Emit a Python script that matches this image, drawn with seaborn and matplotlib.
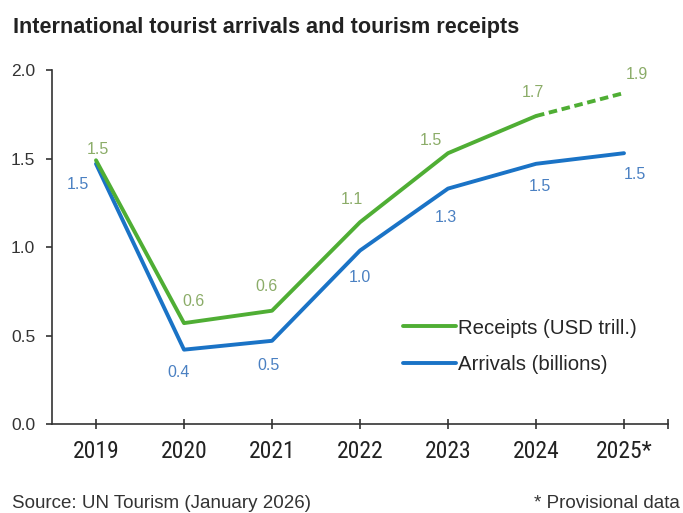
import matplotlib
matplotlib.use("Agg")
import matplotlib.pyplot as plt
from matplotlib import font_manager
from matplotlib.lines import Line2D
import seaborn as sns
import pandas as pd

# Data
years = [2019, 2020, 2021, 2022, 2023, 2024, 2025]
year_labels = ["2019", "2020", "2021", "2022", "2023", "2024", "2025*"]
receipts = [1.49, 0.57, 0.64, 1.14, 1.53, 1.74, 1.87]   # USD trillion
arrivals = [1.47, 0.42, 0.47, 0.98, 1.33, 1.47, 1.53]   # billions
y_ticks = [0.0, 0.5, 1.0, 1.5, 2.0]

# Label offsets in pixels (dx, dy) relative to each point
rec_offsets = [(2, 11), (9, 22), (-6, 24), (-8, 23), (-17, 13), (-3, 24), (13, 19)]
arr_offsets = [(-18, -21), (-5, -23), (-4, -25), (0, -27), (-2, -29), (4, -23), (11, -21)]

GREEN = "#4fae34"
BLUE = "#1a73c6"
GREEN_LBL = "#8bac68"
BLUE_LBL = "#4a80c2"

sns.set_theme(style="white")
available = {f.name for f in font_manager.fontManager.ttflist}
narrow = next((n for n in ["Liberation Sans Narrow", "Arial Narrow", "Roboto Condensed",
                           "Archivo Narrow", "Sofia Sans Condensed"] if n in available),
              "Liberation Sans")
plt.rcParams["font.family"] = ["Liberation Sans", "DejaVu Sans"]

fig = plt.figure(figsize=(6.83, 5.13), dpi=100)
ax = fig.add_axes([52 / 683, 89 / 513, 616 / 683, 354 / 513])

df = pd.DataFrame({"year": years, "receipts": receipts, "arrivals": arrivals})
solid = df[df["year"] <= 2024]
proj = df[df["year"] >= 2024]

sns.lineplot(data=df, x="year", y="arrivals", color=BLUE, lw=2.8, ax=ax)
sns.lineplot(data=solid, x="year", y="receipts", color=GREEN, lw=2.8, ax=ax)
sns.lineplot(data=proj, x="year", y="receipts", color=GREEN, lw=2.8, ax=ax,
             linestyle=(0, (2.2, 1.2)))

for x, v, off in zip(years, receipts, rec_offsets):
    ax.annotate(f"{v:.1f}", (x, v), xytext=off, textcoords="offset pixels",
                ha="center", va="center", fontsize=11.5, color=GREEN_LBL)
for x, v, off in zip(years, arrivals, arr_offsets):
    ax.annotate(f"{v:.1f}", (x, v), xytext=off, textcoords="offset pixels",
                ha="center", va="center", fontsize=11.5, color=BLUE_LBL)

ax.set_xlim(2018.5, 2025.5)
ax.set_ylim(0, 2.0)
ax.set_xticks(years)
ax.set_xticklabels(year_labels, fontfamily=narrow, fontsize=17, color="#222222")
ax.set_xticks([2025.5], minor=True)
ax.set_yticks(y_ticks)
ax.set_yticklabels([f"{t:.1f}" for t in y_ticks], fontsize=12.5, color="#333333")
ax.set_xlabel("")
ax.set_ylabel("")

for side in ["top", "right"]:
    ax.spines[side].set_visible(False)
for side in ["left", "bottom"]:
    ax.spines[side].set_color("#333333")
    ax.spines[side].set_linewidth(1.2)
ax.tick_params(axis="x", which="both", direction="inout", length=7, width=1.2,
               color="#333333", pad=8, bottom=True)
ax.tick_params(axis="y", direction="out", length=4, width=1.2,
               color="#333333", pad=8, left=True)

handles = [Line2D([], [], color=GREEN, lw=2.8), Line2D([], [], color=BLUE, lw=2.8)]
ax.legend(handles, ["Receipts (USD trill.)", "Arrivals (billions)"],
          loc="center left", bbox_to_anchor=(0.553, 0.220), frameon=False,
          borderpad=0, handlelength=2.6, handletextpad=0.12, labelspacing=0.84,
          prop={"size": 14.7})

fig.text(13 / 683, 1 - 33 / 513, "International tourist arrivals and tourism receipts",
         fontweight="bold", fontsize=15.6, color="#222222",
         ha="left", va="baseline")
fig.text(12 / 683, 1 - 503 / 513, "Source: UN Tourism (January 2026)",
         fontsize=13.5, color="#333333", ha="left", va="center")
fig.text(680 / 683, 1 - 503 / 513, "* Provisional data",
         fontsize=13.5, color="#333333", ha="right", va="center")

fig.savefig("out.png", dpi=100)
